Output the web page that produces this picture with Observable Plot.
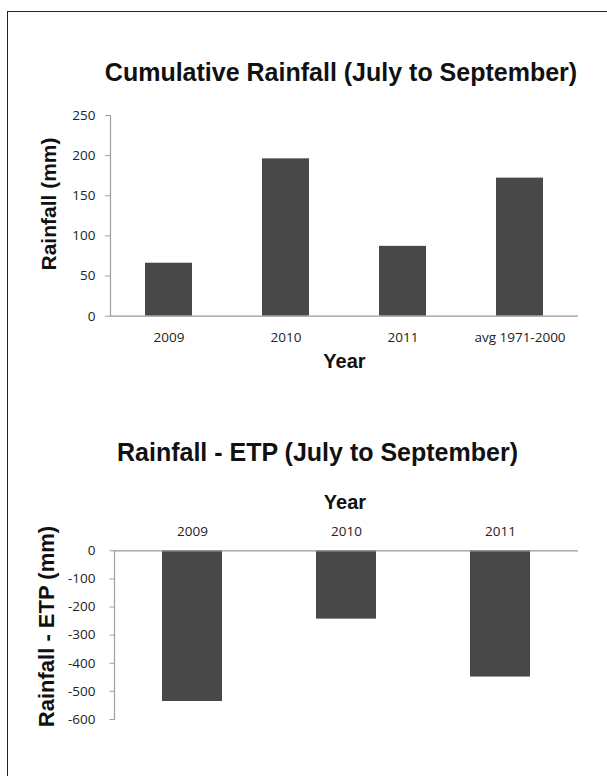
<!DOCTYPE html>
<html>
<head>
<meta charset="utf-8">
<script src="https://cdn.jsdelivr.net/npm/d3@7"></script>
<script src="https://cdn.jsdelivr.net/npm/@observablehq/plot@0.6"></script>
<style>
  html, body { margin: 0; padding: 0; background: #fff; }
  #page { position: relative; width: 607px; height: 776px; overflow: hidden; background: #fff; }
  #border { position: absolute; left: 7px; top: 11px; width: 640px; height: 820px; border: 1.5px solid #222; box-sizing: border-box; }
  #c1 { position: absolute; left: 0; top: 90px; }
  #c2 { position: absolute; left: 0; top: 480px; }
  #overlay { position: absolute; left: 0; top: 0; pointer-events: none; }
  #overlay text { font-family: "Liberation Sans", Arial, sans-serif; font-weight: bold; fill: #111; }
</style>
</head>
<body>
<div id="page">
  <div id="border"></div>
  <div id="c1"></div>
  <div id="c2"></div>
  <svg id="overlay" width="607" height="776">
    <text x="341" y="80.7" text-anchor="middle" font-size="25">Cumulative Rainfall (July to September)</text>
    <text transform="translate(56,204) rotate(-90)" text-anchor="middle" font-size="21">Rainfall (mm)</text>
    <text x="344.5" y="368" text-anchor="middle" font-size="20">Year</text>
    <text x="317.5" y="461" text-anchor="middle" font-size="25">Rainfall - ETP (July to September)</text>
    <text x="345" y="509" text-anchor="middle" font-size="20">Year</text>
    <text transform="translate(53.5,626.5) rotate(-90)" text-anchor="middle" font-size="22">Rainfall - ETP (mm)</text>
  </svg>
</div>
<script>
// Chart 1: cumulative rainfall
const years1 = ["2009", "2010", "2011", "avg 1971-2000"];
const rainfall = [66, 196, 87, 172];
const yTicks1 = [0, 50, 100, 150, 200, 250];

// Chart 2: rainfall - ETP
const years2 = ["2009", "2010", "2011"];
const rainMinusEtp = [-536, -243, -449];
const yTicks2 = [0, -100, -200, -300, -400, -500, -600];

const data1 = years1.map((year, i) => ({year, value: rainfall[i]}));
const data2 = years2.map((year, i) => ({year, value: rainMinusEtp[i]}));

const tickFont = {fontFamily: "'Open Sans', sans-serif", fontSize: "13.5px", background: "transparent", overflow: "visible"};
const barColor = "#484848";
const axisColor = "#a0a0a0";

const chart1 = Plot.plot({
  width: 607, height: 300,
  marginLeft: 110, marginRight: 29, marginTop: 25, marginBottom: 74.3,
  style: tickFont,
  x: {domain: years1, paddingInner: 0.6, paddingOuter: 0.3},
  y: {domain: [0, 250]},
  marks: [
    Plot.barY(data1, {x: "year", y: "value", fill: barColor}),
    Plot.frame({anchor: "left", stroke: axisColor, strokeWidth: 1.2}),
    Plot.ruleY([0], {stroke: "#999", strokeWidth: 1.3}),
    Plot.axisY({ticks: yTicks1, tickSize: 5, tickPadding: 10, stroke: axisColor, fill: "#222", label: null}),
    Plot.axisX({tickSize: 0, tickPadding: 16.6, fill: "#222", label: null})
  ]
});
document.getElementById("c1").appendChild(chart1);

const chart2 = Plot.plot({
  width: 607, height: 260,
  marginLeft: 114, marginRight: 29, marginTop: 70.3, marginBottom: 21,
  style: tickFont,
  x: {domain: years2, paddingInner: 0.61, paddingOuter: 0.305},
  y: {domain: [-600, 0]},
  marks: [
    Plot.barY(data2, {x: "year", y: "value", fill: barColor}),
    Plot.frame({anchor: "left", stroke: axisColor, strokeWidth: 1.2}),
    Plot.ruleY([0], {stroke: "#999", strokeWidth: 1.3}),
    Plot.axisY({ticks: yTicks2, tickSize: 4.5, tickPadding: 14.5, stroke: axisColor, fill: "#222", label: null, tickFormat: d => String(d)}),
    Plot.axisX({anchor: "top", tickSize: 0, tickPadding: 15.3, fill: "#222", label: null})
  ]
});
document.getElementById("c2").appendChild(chart2);
</script>
</body>
</html>
